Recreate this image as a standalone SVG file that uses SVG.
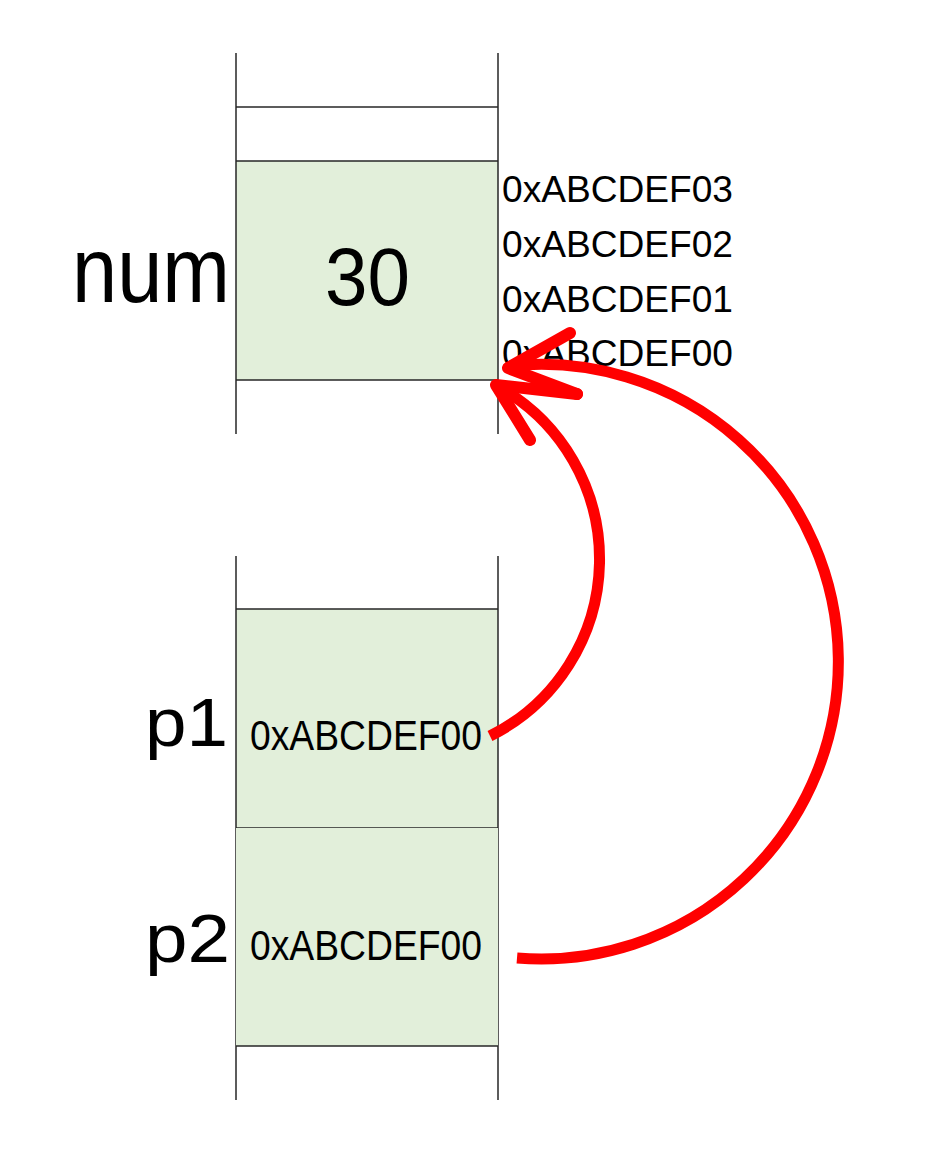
<svg xmlns="http://www.w3.org/2000/svg" width="930" height="1172" viewBox="0 0 930 1172">
<style>
.ln{stroke:#262626;stroke-width:1.5;fill:none}
.cell{fill:#E2EFDA;stroke:none}
.t{font-family:"Liberation Sans",Arial,sans-serif;fill:#000}
.arr{stroke:#FF0000;stroke-width:11;fill:none}
.head{stroke:#FF0000;stroke-width:12;fill:none;stroke-linecap:round;stroke-linejoin:round}
</style>
<rect width="930" height="1172" fill="#FFFFFF"/>
<g id="num">
<rect class="cell" x="236" y="161" width="262" height="219"/>
<line class="ln" x1="236" y1="53" x2="236" y2="434"/>
<line class="ln" x1="498" y1="53" x2="498" y2="434"/>
<line class="ln" x1="236" y1="107" x2="498" y2="107"/>
<line class="ln" x1="236" y1="161" x2="498" y2="161"/>
<line class="ln" x1="236" y1="380" x2="498" y2="380"/>
<text class="t" x="72" y="302" font-size="92" textLength="158" lengthAdjust="spacingAndGlyphs">num</text>
<text class="t" x="325" y="305" font-size="82" textLength="85" lengthAdjust="spacingAndGlyphs">30</text>
<text class="t" x="502" y="202" font-size="37" textLength="231" lengthAdjust="spacingAndGlyphs">0xABCDEF03</text>
<text class="t" x="502" y="257" font-size="37" textLength="231" lengthAdjust="spacingAndGlyphs">0xABCDEF02</text>
<text class="t" x="502" y="312" font-size="37" textLength="231" lengthAdjust="spacingAndGlyphs">0xABCDEF01</text>
<text class="t" x="502" y="366" font-size="37" textLength="231" lengthAdjust="spacingAndGlyphs">0xABCDEF00</text>
</g>
<g id="p1">
<rect class="cell" x="236" y="609" width="262" height="219"/>
<line class="ln" x1="236" y1="556" x2="236" y2="1100"/>
<line class="ln" x1="498" y1="556" x2="498" y2="1100"/>
<line class="ln" x1="236" y1="609" x2="498" y2="609"/>
<line class="ln" x1="236" y1="828" x2="498" y2="828"/>
<text class="t" x="145" y="746" font-size="68" textLength="83" lengthAdjust="spacingAndGlyphs">p1</text>
<text class="t" x="250" y="750" font-size="42" textLength="232" lengthAdjust="spacingAndGlyphs">0xABCDEF00</text>
</g>
<g id="p2">
<rect class="cell" x="236" y="828" width="262" height="218"/>
<line class="ln" x1="236" y1="1046" x2="498" y2="1046"/>
<text class="t" x="145" y="962" font-size="68" textLength="85" lengthAdjust="spacingAndGlyphs">p2</text>
<text class="t" x="250" y="960" font-size="42" textLength="232" lengthAdjust="spacingAndGlyphs">0xABCDEF00</text>
</g>
<g id="connectors">
<path class="arr" d="M490,736 A197.5,197.5 0 0 0 497,386"/>
<polyline class="head" points="530,440 496,385 577,394"/>
<path class="arr" d="M517,958 A297.3,297.3 0 1 0 510,366"/>
<polyline class="head" points="570,333 508,368 577,394"/>
</g>
</svg>
